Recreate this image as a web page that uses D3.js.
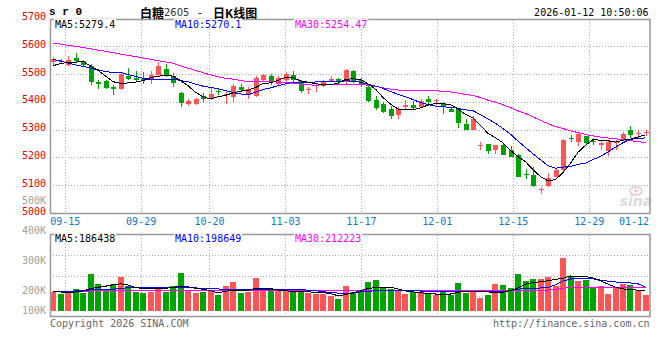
<!DOCTYPE html>
<html><head><meta charset="utf-8">
<script src="https://cdn.jsdelivr.net/npm/d3@7"></script>
<style>
html,body{margin:0;padding:0;background:#fff;}
svg{display:block;}
text{font-family:"DejaVu Sans Mono","Liberation Mono",monospace;font-size:10px;}
</style></head><body>
<svg id="chart" width="660" height="360"></svg>
<script>
// ---------- DATA ----------
const dates = ["09-11","09-12","09-15","09-16","09-17","09-18","09-19","09-22","09-23","09-24","09-25","09-26","09-29","09-30","10-09","10-10","10-13","10-14","10-15","10-16","10-17","10-20","10-21","10-22","10-23","10-24","10-27","10-28","10-29","10-30","10-31","11-03","11-04","11-05","11-06","11-07","11-10","11-11","11-12","11-13","11-14","11-17","11-18","11-19","11-20","11-21","11-24","11-25","11-26","11-27","11-28","12-01","12-02","12-03","12-04","12-05","12-08","12-09","12-10","12-11","12-12","12-15","12-16","12-17","12-18","12-19","12-22","12-23","12-24","12-25","12-26","12-29","12-30","12-31","01-05","01-06","01-07","01-08","01-09","01-12"];
const open  = [5544,5546,5532,5557,5546,5528,5470,5476,5454,5445,5492,5486,5484,5478,5498,5520,5494,5433,5392,5394,5422,5413,5440,5424,5418,5452,5424,5422,5478,5492,5464,5478,5496,5476,5445,5459,5456,5474,5482,5472,5511,5478,5452,5406,5392,5374,5352,5380,5388,5382,5410,5404,5397,5376,5374,5321,5299,5241,5247,5227,5245,5227,5209,5141,5137,5083,5098,5131,5155,5270,5257,5277,5260,5245,5224,5251,5264,5300,5286,5290];
const high  = [5562,5556,5564,5576,5552,5538,5478,5478,5460,5508,5521,5510,5506,5510,5544,5535,5504,5436,5412,5415,5433,5452,5448,5436,5464,5464,5452,5492,5500,5500,5492,5508,5510,5478,5452,5464,5480,5492,5486,5520,5514,5486,5460,5421,5400,5385,5380,5406,5404,5412,5421,5409,5401,5380,5376,5340,5349,5257,5247,5245,5247,5241,5212,5158,5167,5095,5143,5158,5265,5281,5287,5277,5271,5258,5263,5264,5290,5312,5300,5300];
const low   = [5531,5538,5529,5544,5526,5462,5448,5445,5423,5442,5478,5472,5466,5466,5490,5490,5452,5380,5386,5387,5400,5406,5424,5394,5397,5436,5412,5418,5476,5460,5460,5472,5472,5433,5427,5436,5454,5471,5466,5460,5468,5454,5401,5370,5361,5340,5337,5373,5374,5380,5394,5388,5358,5362,5305,5299,5299,5227,5212,5212,5207,5200,5128,5122,5095,5069,5095,5131,5151,5257,5242,5245,5245,5228,5205,5227,5260,5270,5270,5277];
const close = [5556,5542,5550,5547,5533,5472,5464,5450,5445,5500,5482,5478,5478,5496,5528,5494,5468,5397,5404,5411,5412,5428,5436,5430,5456,5442,5445,5486,5498,5472,5486,5500,5480,5439,5448,5462,5474,5482,5474,5514,5470,5462,5404,5379,5364,5350,5373,5388,5379,5403,5398,5406,5380,5364,5325,5299,5340,5245,5224,5245,5209,5203,5131,5137,5098,5086,5125,5155,5263,5267,5283,5251,5258,5251,5257,5260,5284,5279,5289,5293];
const ma5  = [5530,5538,5542,5543,5545.6,5528.8,5513.2,5493.2,5472.8,5466.2,5468.2,5471.0,5476.6,5486.8,5492.4,5494.8,5492.8,5476.6,5458.2,5434.8,5418.4,5410.4,5418.2,5423.4,5432.4,5438.4,5441.8,5451.8,5465.4,5468.6,5477.4,5488.4,5487.2,5475.4,5470.6,5465.8,5460.6,5461.0,5468.0,5481.2,5482.8,5480.4,5464.8,5445.8,5415.8,5391.8,5374.0,5370.8,5370.8,5378.6,5388.2,5394.8,5393.2,5390.2,5374.6,5354.8,5341.6,5314.6,5286.6,5270.6,5252.6,5225.2,5202.4,5185.0,5155.6,5131.0,5115.4,5120.2,5145.4,5179.2,5218.6,5243.8,5264.4,5262.0,5260.0,5255.4,5262.0,5266.2,5273.8,5281.0];
const ma10 = [5553,5547,5540,5533,5528,5521,5515,5509,5506,5505.9,5498.5,5492.1,5484.9,5479.8,5479.3,5481.5,5481.9,5476.6,5472.5,5463.6,5456.6,5451.6,5447.4,5440.8,5433.6,5428.4,5426.1,5435.0,5444.4,5450.5,5457.9,5465.1,5469.5,5470.4,5469.6,5471.6,5474.5,5474.1,5471.7,5475.9,5474.3,5470.5,5462.9,5456.9,5448.5,5437.3,5427.2,5417.8,5408.3,5397.2,5390.0,5384.4,5382.0,5380.5,5376.6,5371.5,5368.2,5353.9,5338.4,5322.6,5303.7,5283.4,5258.5,5235.8,5213.1,5191.8,5170.3,5161.3,5165.2,5167.4,5174.8,5179.6,5192.3,5203.7,5219.6,5237.0,5252.9,5265.3,5267.9,5270.5];
const ma30 = [5612,5608,5603,5600,5596,5591,5586,5582,5577,5572,5567,5563,5558,5553,5548,5544,5539,5530,5521,5513,5505,5497,5490,5485,5482,5477,5473,5472,5472,5473.3,5471.0,5469.6,5467.3,5463.7,5460.8,5460.5,5460.8,5461.9,5462.9,5463.3,5462.9,5462.4,5459.9,5456.0,5450.6,5445.8,5442.6,5442.3,5441.5,5441.2,5440.7,5440.0,5438.1,5435.9,5431.6,5426.8,5423.3,5415.3,5406.1,5398.6,5389.3,5379.4,5367.8,5357.7,5346.1,5333.5,5321.9,5311.0,5304.0,5295.7,5289.5,5282.5,5277.6,5273.3,5269.8,5266.8,5263.8,5260.2,5257.2,5253.5];
const volume = [197,189,193,206,191,256,222,202,218,246,216,196,192,196,211,197,216,259,199,193,197,201,186,216,229,192,197,242,206,206,202,202,199,202,193,189,190,184,172,216,197,202,230,236,211,206,202,189,197,197,191,186,197,186,227,193,202,177,186,223,219,210,257,233,240,240,247,217,309,250,233,237,211,216,190,211,223,219,199,186].map(v => v * 1000);
const volMa5  = [199,196,193,196,199,207,211,215,220,223,219,211,207,206,207,208,211,215,213,208,205,200,193,198,202,202,200,209,209,207,202,200,197,196,196,195,193,191,183,187,193,200,207,211,211,211,206,199,196,193,191,189,189,189,195,198,199,197,196,193,195,201,209,222,227,230,233,238,241,249,248,247,242,233,222,212,206,203,202,201].map(v => v * 1000);
const volMa10 = [199,199,199,199,200,203,205,205,205,207,210,210,210,210,210,210,209,210,210,210,206,206,206,203,203,203,203,203,203,203,203,203,203,203,202,200,197,194,192,191,192,196,198,200,201,202,202,201,200,199,199,199,199,199,199,199,198,197,197,197,198,200,205,208,208,209,211,220,232,239,240,241,240,235,232,229,227,226,223,212].map(v => v * 1000);
const volMa30 = [196,196,196,196,196,200,200,200,200,200,200,202,202,202,202,202,202,202,202,202,202,202,202,202,202,202,202,202,202,202,202,202,202,202,202,202,202,202,201,201,201,201,201,201,201,201,201,201,201,201,201,201,201,201,201,201,201,201,201,201,201,202,202,202,202,202,202,204,208,212,212,212,212,212,212,212,212,212,212,212].map(v => v * 1000);
const priceTicks = [5700,5600,5500,5400,5300,5200,5100,5000];
const volTicks = [100000,200000,300000,400000,500000];
const volTickLabels = ["100K","200K","300K","400K","500K"];
const dateTicks = ["09-15","09-29","10-20","11-03","11-17","12-01","12-15","12-29","01-12"];
const mainLegend = [["MA5:5279.4","#000000"],["MA10:5270.1","#0000ff"],["MA30:5254.47","#ff00ff"]];
const volLegend  = [["MA5:186438","#000000"],["MA10:198649","#0000ff"],["MA30:212223","#ff00ff"]];
const symbol = "s r 0";
const titleName = "白糖", titleCode = "2605", titleKind = "日K线图";
const stamp = "2026-01-12 10:50:06";
const VOL_BASE = 133000;

// ---------- LAYOUT ----------
const UP = "#ff5555", DOWN = "#00a300", GRID = "#aaaaaa", FRAME = "#999999";
const L = 50, R = 649.5;
const svg = d3.select("#chart");
const n = dates.length;
const x  = d3.scaleLinear().domain([0, n - 1]).range([53, 645.5]);   // candle centres
const xg = d3.scaleLinear().domain([0, n - 1]).range([50, 650]);     // date grid
const y  = d3.scaleLinear().domain([5000, 5700]).range([213, 18.5]);
const yv = d3.scaleLinear().domain([200000, 500000]).range([290.7, 200.7]);
const px = v => Math.round(v) + 0.5;
const mainTop = 19.5, mainBot = 213.5, volTop = 234.5, volBot = 316.5;

svg.append("rect").attr("width", 660).attr("height", 360).attr("fill", "#fff");

const defs = svg.append("defs");
defs.append("clipPath").attr("id", "clipMain").append("rect")
  .attr("x", L + 1).attr("y", mainTop).attr("width", R - L - 1).attr("height", mainBot - mainTop);
defs.append("clipPath").attr("id", "clipVol").append("rect")
  .attr("x", L + 1).attr("y", volTop).attr("width", R - L - 1).attr("height", volBot - volTop);

// grid
const grid = svg.append("g").attr("stroke", GRID).attr("stroke-dasharray", "1,2").attr("shape-rendering", "crispEdges");
priceTicks.filter(v => v < 5700 && v > 5000).forEach(v => {
  grid.append("line").attr("x1", L).attr("x2", R).attr("y1", px(y(v))).attr("y2", px(y(v)));
});
[0.25, 0.5, 0.75].forEach(f => {
  const yy = px(volTop + (volBot - volTop) * f);
  grid.append("line").attr("x1", L).attr("x2", R).attr("y1", yy).attr("y2", yy);
});
const tickIdx = dateTicks.map(d => dates.indexOf(d));
tickIdx.filter(i => i < n - 1).forEach(i => {
  const xx = px(xg(i) - 0.5);
  grid.append("line").attr("x1", xx).attr("x2", xx).attr("y1", mainTop).attr("y2", mainBot);
  grid.append("line").attr("x1", xx).attr("x2", xx).attr("y1", volTop).attr("y2", volBot);
});

// watermark
const wm = svg.append("g");
wm.append("ellipse").attr("cx", 636).attr("cy", 191).attr("rx", 6).attr("ry", 4)
  .attr("fill", "none").attr("stroke", "#f1c4c4").attr("stroke-width", 1.5);
wm.append("circle").attr("cx", 636).attr("cy", 191).attr("r", 1.8).attr("fill", "#f1c4c4");
wm.append("text").attr("x", 636).attr("y", 206).attr("text-anchor", "middle")
  .style("font-family", "DejaVu Sans").style("font-size", "14px").style("font-style", "italic")
  .style("font-weight", "bold").attr("fill", "#dcdcdc").text("sina");

// candles
const cg = svg.append("g").attr("clip-path", "url(#clipMain)").attr("shape-rendering", "crispEdges");
d3.range(n).forEach(i => {
  const col = close[i] >= open[i] ? UP : DOWN;
  const cx = Math.round(x(i));
  cg.append("line").attr("x1", cx + 0.5).attr("x2", cx + 0.5)
    .attr("y1", y(high[i])).attr("y2", y(low[i])).attr("stroke", col);
  const top = y(Math.max(open[i], close[i])), bot = y(Math.min(open[i], close[i]));
  cg.append("rect").attr("x", cx - 2).attr("width", 5)
    .attr("y", top).attr("height", Math.max(1, bot - top)).attr("fill", col);
});

// price MA lines
const lineP = d3.line().x((d, i) => x(i)).y(d => y(d));
const ml = svg.append("g").attr("clip-path", "url(#clipMain)").attr("fill", "none")
  .attr("stroke-width", 1).attr("shape-rendering", "crispEdges");
ml.append("path").attr("d", lineP(ma30)).attr("stroke", "#ff00ff");
ml.append("path").attr("d", lineP(ma10)).attr("stroke", "#0000ff");
ml.append("path").attr("d", lineP(ma5)).attr("stroke", "#000000");

// volume bars
const vg = svg.append("g").attr("clip-path", "url(#clipVol)").attr("shape-rendering", "crispEdges");
d3.range(n).forEach(i => {
  const col = close[i] >= open[i] ? UP : DOWN;
  const cx = Math.round(x(i));
  const t = yv(volume[i]), b = yv(VOL_BASE);
  vg.append("rect").attr("x", cx - 3).attr("width", 6).attr("y", t).attr("height", b - t).attr("fill", col);
});
const lineV = d3.line().x((d, i) => x(i)).y(d => yv(d));
const vl = svg.append("g").attr("clip-path", "url(#clipVol)").attr("fill", "none")
  .attr("stroke-width", 1).attr("shape-rendering", "crispEdges");
vl.append("path").attr("d", lineV(volMa30)).attr("stroke", "#ff00ff");
vl.append("path").attr("d", lineV(volMa10)).attr("stroke", "#0000ff");
vl.append("path").attr("d", lineV(volMa5)).attr("stroke", "#000000");

// frames
const fr = svg.append("g").attr("fill", "none").attr("stroke", FRAME).attr("stroke-width", 1.5);
fr.append("rect").attr("x", L + 0.5).attr("y", mainTop).attr("width", R - L).attr("height", mainBot - mainTop);
fr.append("rect").attr("x", L + 0.5).attr("y", volTop).attr("width", R - L).attr("height", volBot - volTop);

// price axis labels
svg.append("g").selectAll("text").data(priceTicks).join("text")
  .attr("x", 46).attr("y", d => y(d) - 2).attr("text-anchor", "end").attr("dominant-baseline", "central")
  .attr("fill", "#e00000").text(d => d);

// volume axis labels
svg.append("g").selectAll("text").data(volTicks).join("text")
  .attr("x", 46).attr("y", d => Math.min(yv(d), 310)).attr("text-anchor", "end").attr("dominant-baseline", "central")
  .attr("fill", "#a0a0a0").text((d, i) => volTickLabels[i]);

// date labels
svg.append("g").selectAll("text").data(tickIdx).join("text")
  .attr("x", d => d === n - 1 ? 649 : xg(d))
  .attr("y", 221.7).attr("text-anchor", d => d === n - 1 ? "end" : "middle").attr("dominant-baseline", "central")
  .attr("fill", "#0a78d2").text(d => dates[d]);

// legends
function legend(items, yy) {
  const xs = [55, 175, 295];
  items.forEach((it, k) => {
    const gg = svg.append("g");
    const bg = gg.append("rect").attr("fill", "#fff");
    const t = gg.append("text").attr("x", xs[k]).attr("y", yy).attr("dominant-baseline", "central")
      .attr("fill", it[1]).text(it[0]);
    const w = t.node().getComputedTextLength();
    bg.attr("x", xs[k] - 1).attr("y", yy - 5).attr("width", w + 2).attr("height", 10);
  });
}
legend(mainLegend, 24);
legend(volLegend, 238.5);

// header
svg.append("text").attr("x", 49).attr("y", 12).attr("dominant-baseline", "central")
  .style("font-family", "Liberation Mono").style("font-size", "11px").style("font-weight", "bold").text(symbol);
svg.append("text").attr("x", 140).attr("y", 12).attr("dominant-baseline", "central")
  .style("font-family", "Noto Sans CJK SC").style("font-size", "12px").style("font-weight", "bold").text(titleName);
svg.append("text").attr("x", 164).attr("y", 12.5).attr("dominant-baseline", "central")
  .style("font-family", "DejaVu Sans").style("font-size", "10px").attr("fill", "#333").text(titleCode);
svg.append("text").attr("x", 198).attr("y", 12).attr("dominant-baseline", "central")
  .style("font-family", "DejaVu Sans").style("font-size", "11px").text("-");
svg.append("text").attr("x", 213).attr("y", 12).attr("dominant-baseline", "central")
  .style("font-family", "Noto Sans CJK SC").style("font-size", "12px").style("font-weight", "bold").text(titleKind);
svg.append("text").attr("x", 648.5).attr("y", 12).attr("text-anchor", "end").attr("dominant-baseline", "central")
  .text(stamp);

// footer
svg.append("text").attr("x", 50).attr("y", 323.5).attr("dominant-baseline", "central").attr("fill", "#666").text("Copyright 2026 SINA.COM");
svg.append("text").attr("x", 649.5).attr("y", 323.5).attr("text-anchor", "end").attr("dominant-baseline", "central").attr("fill", "#666").text("http://finance.sina.com.cn");
</script>
</body></html>
